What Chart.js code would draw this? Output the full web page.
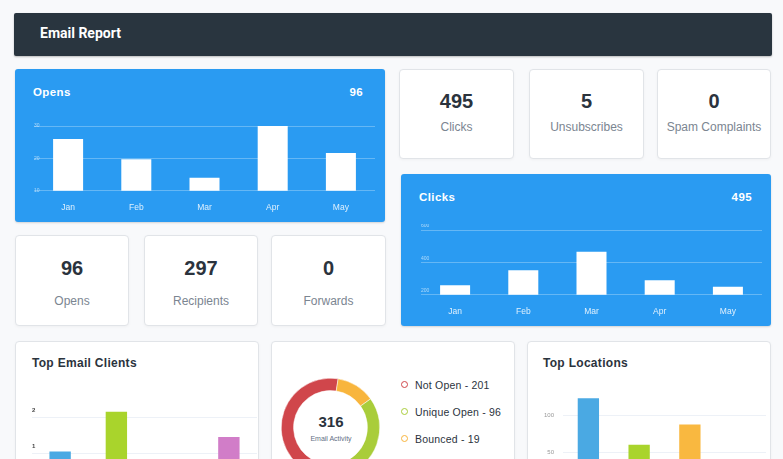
<!DOCTYPE html>
<html>
<head>
<meta charset="utf-8">
<title>Email Report</title>
<script src="https://cdn.jsdelivr.net/npm/chart.js@4.4.1/dist/chart.umd.min.js"></script>
<style>
  body { margin: 0; width: 783px; height: 459px; overflow: hidden; position: relative;
         background: #f8f9fb; font-family: "Liberation Sans", Arial, sans-serif; }
  .abs { position: absolute; box-sizing: border-box; }
  .header { left: 14px; top: 13px; width: 758px; height: 43px; background: #29353f; border-radius: 2px;
            color: #fff; font: bold 14px Roboto, sans-serif; padding-left: 26px; line-height: 40px;
            box-shadow: 0 1px 2px rgba(0,0,0,.25); }
  .card { background: #fff; border: 1px solid #e1e4e8; border-radius: 4px; box-shadow: 0 1px 3px rgba(0,0,0,.04); }
  .blue { background: #2a9bf2; border-radius: 3px; box-shadow: 0 1px 2px rgba(0,0,0,.15); }
  .btitle { color: #fff; font-weight: bold; font-size: 11.5px; letter-spacing: .4px; line-height: 14px; }
  .num { left: 0; width: 100%; text-align: center; font-weight: bold; font-size: 20px; color: #2b333d; line-height: 22px; }
  .lbl { left: 0; width: 100%; text-align: center; font-size: 12px; color: #7b8591; line-height: 14px; }
  .ctitle { font-weight: bold; font-size: 12px; color: #2b333d; letter-spacing: .3px; line-height: 14px; }
  .leg { font-size: 10.5px; color: #2b333d; line-height: 12px; letter-spacing: .2px; }
  .ring { width: 7px; height: 7px; border-radius: 50%; border: 1.6px solid; }
</style>
</head>
<body>
<div class="abs header">Email Report</div>

<div class="abs blue" style="left:15px;top:69px;width:370px;height:153px"></div>
<div class="abs btitle" style="left:33px;top:85px">Opens</div>
<div class="abs btitle" id="opensTotal" style="left:300px;top:85px;width:63px;text-align:right"></div>

<div class="abs blue" style="left:401px;top:174px;width:370px;height:152px"></div>
<div class="abs btitle" style="left:419px;top:190px">Clicks</div>
<div class="abs btitle" id="clicksTotal" style="left:686px;top:190px;width:66px;text-align:right"></div>

<div id="stats"></div>

<div class="abs card" style="left:15px;top:341px;width:244px;height:150px"></div>
<div class="abs ctitle" style="left:32px;top:356px">Top Email Clients</div>
<div class="abs card" style="left:271px;top:341px;width:244px;height:150px"></div>
<div class="abs card" style="left:527px;top:341px;width:244px;height:150px"></div>
<div class="abs ctitle" style="left:543px;top:356px">Top Locations</div>

<div class="abs" style="left:306px;top:413px;width:50px;text-align:center;font-weight:bold;font-size:15px;line-height:18px;color:#2b333d" id="donutTotal"></div>
<div class="abs" style="left:296px;top:435px;width:70px;text-align:center;font-size:7px;line-height:8px;color:#5f6f86">Email Activity</div>
<div id="legend"></div>

<canvas id="opensChart" class="abs" width="345" height="94" style="left:32px;top:123px"></canvas>
<canvas id="clicksChart" class="abs" width="345" height="97" style="left:419px;top:224px"></canvas>
<canvas id="clientsChart" class="abs" width="225" height="94" style="left:32px;top:399px"></canvas>
<canvas id="locationsChart" class="abs" width="231" height="127" style="left:535px;top:374px"></canvas>
<canvas id="donutChart" class="abs" width="99" height="99" style="left:281px;top:378px"></canvas>

<script>
// data
const months = ["Jan", "Feb", "Mar", "Apr", "May"];
const opensValues = [26, 19.7, 14, 30, 21.7];
const clicksValues = [259, 351, 465, 290, 249];
const opensTotal = 96;
const clicksTotal = 495;

const clientNames = ["Client 1", "Client 2", "Client 3", "Client 4"];
const clientValues = [1.05, 2.15, 0.8, 1.45];
const clientColors = ["#4aa9e3", "#a9d42c", "#fde9c4", "#d17dc8"];

const locationNames = ["Location 1", "Location 2", "Location 3", "Location 4"];
const locationValues = [124, 60, 88, 20];
const locationColors = ["#4aa9e3", "#a9d42c", "#f9b840", "#d17dc8"];

const activityLabels = ["Not Open", "Unique Open", "Bounced"];
const activityCounts = [201, 96, 19];
const activityColors = ["#d0464b", "#a9cd3a", "#f8b53d"];
// arc sizes as drawn (clockwise: Not Open, Bounced, Unique Open)
const arcLabels = ["Not Open", "Bounced", "Unique Open"];
const arcValues = [179, 40, 97];
const arcColors = ["#d0464b", "#f8b53d", "#a9cd3a"];

const topStats = [["495", "Clicks"], ["5", "Unsubscribes"], ["0", "Spam Complaints"]];
const lowStats = [["96", "Opens"], ["297", "Recipients"], ["0", "Forwards"]];

// stat cards
const statsEl = document.getElementById("stats");
const topPos = [[399, 115], [529, 115], [657, 114]];
const lowPos = [[15, 114], [144, 114], [271, 115]];
function addStats(list, pos, top, h, numY, lblY) {
    list.forEach((s, i) => {
        let d = document.createElement("div");
        d.className = "abs card";
        d.style.cssText = `left:${pos[i][0]}px;top:${top}px;width:${pos[i][1]}px;height:${h}px`;
        d.innerHTML = `<div class="abs num" style="top:${numY}px">${s[0]}</div>` +
                      `<div class="abs lbl" style="top:${lblY}px">${s[1]}</div>`;
        statsEl.appendChild(d);
    });
}
addStats(topStats, topPos, 69, 90, 20, 50);
addStats(lowStats, lowPos, 235, 91, 21, 58);

document.getElementById("opensTotal").innerText = opensTotal;
document.getElementById("clicksTotal").innerText = clicksTotal;
document.getElementById("donutTotal").innerText = activityCounts.reduce((a, b) => a + b, 0);

// legend
const legendEl = document.getElementById("legend");
activityLabels.forEach((l, i) => {
    let y = 385 + i * 27;
    legendEl.innerHTML += `<div class="abs ring" style="left:401px;top:${y - 4}px;border-color:${activityColors[i]}"></div>` +
        `<div class="abs leg" style="left:415px;top:${y - 6}px">${l} - ${activityCounts[i]}</div>`;
});

const font = "'Liberation Sans', Arial, sans-serif";
Chart.defaults.font.family = font;
Chart.defaults.animation = false;
Chart.defaults.plugins.legend.display = false;
Chart.defaults.plugins.tooltip.enabled = false;

function whiteBars(id, values, min, max, step, labelOffset, padTop) {
    new Chart(document.getElementById(id), {
        type: 'bar',
        data: {
            labels: months,
            datasets: [{ data: values, backgroundColor: '#ffffff', barPercentage: 0.44, categoryPercentage: 1 }]
        },
        options: {
            responsive: false,
            layout: { padding: { left: 2, right: 2, top: padTop, bottom: 0 } },
            scales: {
                x: {
                    grid: { display: false }, border: { display: false },
                    ticks: { color: 'rgba(255,255,255,0.85)', font: { size: 8.5 }, padding: 4 }
                },
                y: {
                    min: min, max: max,
                    grid: { color: 'rgba(255,255,255,0.28)', drawTicks: false }, border: { display: false },
                    ticks: { stepSize: step, mirror: true, padding: 0, labelOffset: labelOffset,
                             color: 'rgba(255,255,255,0.6)', font: { size: 5 } }
                }
            }
        }
    });
}
whiteBars("opensChart", opensValues, 10, 30, 10, 0, 0);
whiteBars("clicksChart", clicksValues, 200, 600, 200, -4, 6);

new Chart(document.getElementById("clientsChart"), {
    type: 'bar',
    data: {
        labels: clientNames,
        datasets: [{ data: clientValues, backgroundColor: clientColors, barPercentage: 0.38, categoryPercentage: 1 }]
    },
    options: {
        responsive: false,
        layout: { padding: 0 },
        scales: {
            x: { display: false },
            y: {
                min: 0, max: 2.4,
                afterBuildTicks: axis => { axis.ticks = axis.ticks.filter(t => Number.isInteger(t.value)); },
                grid: { color: '#edf1f7', drawTicks: false }, border: { display: false },
                ticks: { stepSize: 1, mirror: true, padding: 0, labelOffset: -7, color: '#444', font: { size: 6, weight: 'bold' } }
            }
        }
    }
});

new Chart(document.getElementById("locationsChart"), {
    type: 'bar',
    data: {
        labels: locationNames,
        datasets: [{ data: locationValues, backgroundColor: locationColors, barPercentage: 0.42, categoryPercentage: 1 }]
    },
    options: {
        responsive: false,
        layout: { padding: 0 },
        scales: {
            x: { display: false },
            y: {
                min: 0, max: 140,
                afterBuildTicks: axis => { axis.ticks = axis.ticks.filter(t => t.value % 50 === 0); },
                grid: { color: '#edf1f7', drawTicks: false }, border: { display: false },
                ticks: { stepSize: 50, padding: 9, color: '#999', font: { size: 6 } }
            }
        }
    }
});

new Chart(document.getElementById("donutChart"), {
    type: 'doughnut',
    data: {
        labels: arcLabels,
        datasets: [{ data: arcValues, backgroundColor: arcColors, borderWidth: 0.5, borderColor: '#fff' }]
    },
    options: {
        responsive: false,
        cutout: '75%',
        rotation: 165,
        layout: { padding: 0 }
    }
});
</script>
</body>
</html>
